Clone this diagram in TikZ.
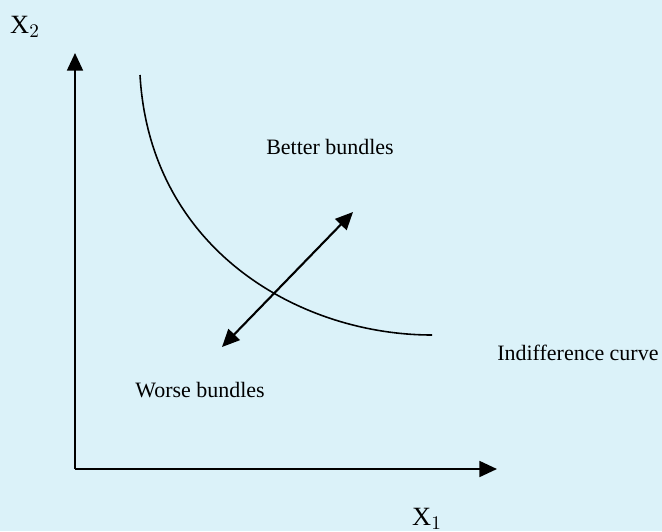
\documentclass[tikz,border=0pt]{standalone}
\usepackage{fontspec}
\setmainfont{Liberation Serif}
\usepackage{tikz}
\usetikzlibrary{arrows.meta,positioning}
\usepackage{xcolor}
\definecolor{paleblue}{RGB}{219,242,249}

\begin{document}
\begin{tikzpicture}[
  x=0.02cm, y=-0.02cm,
  axis/.style={line width=1.3pt, -{Triangle[length=10pt, width=9pt]}},
  swap/.style={line width=1.2pt, {Triangle[length=10pt, width=9pt]}-{Triangle[length=10pt, width=9pt]}},
  label/.style={font=\fontsize{12.5}{14}\selectfont, inner sep=0pt}]
  \fill[paleblue] (0,0) rectangle (662,531);
  \useasboundingbox (0,0) rectangle (662,531);
  % axes
  \coordinate (origin) at (75,469);
  \coordinate (xend) at (497,469);
  \coordinate (yend) at (75,53);
  \draw[axis] (origin) -- (xend);
  \draw[axis] (origin) -- (yend);
  \node[label, font=\fontsize{15}{17}\selectfont] (xtwo) at (25,27) {X$_2$};
  \node[label, font=\fontsize{15}{17}\selectfont] (xone) at (427,519) {X$_1$};
  % indifference curve
  \coordinate (icstart) at (140,75);
  \coordinate (icend) at (432,335);
  \draw[line width=0.9pt] (icstart) .. controls (150,250) and (300,335) .. (icend);
  \node[label, anchor=west] (iclabel) at (497,353) {Indifference curve};
  % preference direction
  \coordinate (worse) at (222,347);
  \coordinate (better) at (353,212);
  \draw[swap] (worse) -- (better);
  \node[label] (betterlab) at (330,147) {Better bundles};
  \node[label] (worselab) at (200,390) {Worse bundles};
\end{tikzpicture}
\end{document}
